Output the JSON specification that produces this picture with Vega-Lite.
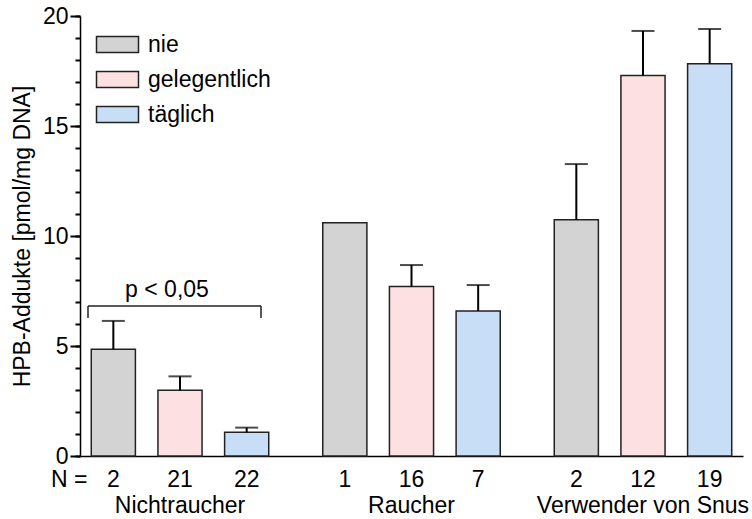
{
  "$schema": "https://vega.github.io/schema/vega-lite/v6.json",
  "autosize": {"type": "none"},
  "padding": {"left": 80, "top": 16, "right": 9, "bottom": 63},
  "width": 663,
  "height": 440,
  "config": {
    "font": "Liberation Sans",
    "view": {"stroke": null},
    "axis": {"labelColor": "#000", "titleColor": "#000", "domainColor": "#000", "domainWidth": 1.5, "grid": false, "labelFontSize": 23, "titleFontSize": 23, "titleFontWeight": "normal", "labelOverlap": false, "labelLimit": 0, "zindex": 2}
  },
  "resolve": {"axis": {"y": "independent"}},
  "data": {
    "values": [
      {"group": "Nichtraucher", "freq": "nie", "value": 4.85, "err": 6.14, "n": "2"},
      {"group": "Nichtraucher", "freq": "gelegentlich", "value": 2.99, "err": 3.62, "n": "21"},
      {"group": "Nichtraucher", "freq": "täglich", "value": 1.08, "err": 1.29, "n": "22"},
      {"group": "Raucher", "freq": "nie", "value": 10.6, "err": null, "n": "1"},
      {"group": "Raucher", "freq": "gelegentlich", "value": 7.7, "err": 8.68, "n": "16"},
      {"group": "Raucher", "freq": "täglich", "value": 6.59, "err": 7.77, "n": "7"},
      {"group": "Verwender von Snus", "freq": "nie", "value": 10.74, "err": 13.27, "n": "2"},
      {"group": "Verwender von Snus", "freq": "gelegentlich", "value": 17.3, "err": 19.32, "n": "12"},
      {"group": "Verwender von Snus", "freq": "täglich", "value": 17.83, "err": 19.41, "n": "19"}
    ]
  },
  "layer": [
    {
      "mark": {"type": "bar", "stroke": "#222", "strokeWidth": 1.5},
      "encoding": {
        "x": {
          "field": "group", "type": "nominal", "sort": null,
          "scale": {"domain": ["Nichtraucher", "Raucher", "Verwender von Snus"], "paddingInner": 0.136, "paddingOuter": 0},
          "axis": {"title": null, "ticks": false, "labelAngle": 0, "labelBaseline": "alphabetic", "labelPadding": 56}
        },
        "xOffset": {
          "field": "freq", "type": "nominal", "sort": null,
          "scale": {"domain": ["nie", "gelegentlich", "täglich"], "paddingInner": 0.338, "paddingOuter": 0.169}
        },
        "y": {
          "field": "value", "type": "quantitative",
          "scale": {"domain": [0, 20], "nice": false, "zero": true},
          "axis": {
            "orient": "left",
            "title": "HPB-Addukte [pmol/mg DNA]",
            "titlePadding": 8,
            "values": [0, 5, 10, 15, 20],
            "ticks": false,
            "tickSize": 0,
            "labelPadding": 12
          }
        },
        "color": {
          "field": "freq", "type": "nominal", "sort": null,
          "scale": {"domain": ["nie", "gelegentlich", "täglich"], "range": ["#d3d3d3", "#fde0e2", "#c8ddf6"]},
          "legend": {
            "title": null, "orient": "none", "legendX": 26, "legendY": 17, "padding": 0,
            "symbolType": "M-2.625,-1H2.625V1H-2.625Z", "symbolSize": 256,
            "symbolStrokeColor": "#222", "symbolStrokeWidth": 1.5, "symbolOpacity": 1,
            "labelFontSize": 23, "labelColor": "#000", "labelOffset": 19, "rowPadding": 11
          }
        }
      }
    },
    {
      "transform": [{"filter": "datum.err != null"}],
      "mark": {"type": "rule", "color": "#000", "strokeWidth": 2},
      "encoding": {
        "x": {"field": "group", "type": "nominal"},
        "xOffset": {"field": "freq", "type": "nominal"},
        "y": {
          "field": "value", "type": "quantitative",
          "axis": {
            "orient": "left", "title": null, "labels": false, "domain": false,
            "ticks": true, "tickColor": "#000", "tickWidth": 2, "tickOpacity": 1,
            "values": [0, 1, 2, 3, 4, 5, 6, 7, 8, 9, 10, 11, 12, 13, 14, 15, 16, 17, 18, 19, 20],
            "tickSize": 5
          }
        },
        "y2": {"field": "err"}
      }
    },
    {
      "transform": [{"filter": "datum.err != null"}],
      "mark": {"type": "tick", "color": "#000", "thickness": 2, "size": 23, "orient": "horizontal"},
      "encoding": {
        "x": {"field": "group", "type": "nominal"},
        "xOffset": {"field": "freq", "type": "nominal"},
        "y": {
          "field": "err", "type": "quantitative",
          "axis": {
            "orient": "left", "title": null, "labels": false, "domain": false,
            "ticks": true, "tickColor": "#000", "tickWidth": 2, "tickOpacity": 1,
            "values": [0, 5, 10, 15, 20],
            "tickSize": 10
          }
        }
      }
    },
    {
      "mark": {"type": "text", "fontSize": 23, "baseline": "alphabetic", "align": "center", "color": "#000"},
      "encoding": {
        "x": {"field": "group", "type": "nominal"},
        "xOffset": {"field": "freq", "type": "nominal"},
        "y": {"datum": -1.41, "axis": null},
        "text": {"field": "n"}
      }
    },
    {
      "data": {"values": [{"label": "N ="}]},
      "mark": {"type": "text", "fontSize": 23, "baseline": "alphabetic", "align": "right", "dx": -26, "color": "#000"},
      "encoding": {
        "x": {"datum": "Nichtraucher"},
        "xOffset": {"datum": "nie"},
        "y": {"datum": -1.41, "axis": null},
        "text": {"field": "label"}
      }
    },
    {
      "data": {"values": [{"group": "Nichtraucher", "top": 6.82, "foot": 6.27}]},
      "layer": [
        {
          "mark": {"type": "rule", "color": "#222", "strokeWidth": 1.5},
          "encoding": {
            "x": {"field": "group", "type": "nominal", "bandPosition": 0.04},
            "x2": {"field": "group", "bandPosition": 0.905},
            "y": {"field": "top", "type": "quantitative", "axis": null}
          }
        },
        {
          "mark": {"type": "rule", "color": "#222", "strokeWidth": 1.5},
          "encoding": {
            "x": {"field": "group", "type": "nominal", "bandPosition": 0.04},
            "y": {"field": "top", "type": "quantitative", "axis": null},
            "y2": {"field": "foot"}
          }
        },
        {
          "mark": {"type": "rule", "color": "#222", "strokeWidth": 1.5},
          "encoding": {
            "x": {"field": "group", "type": "nominal", "bandPosition": 0.905},
            "y": {"field": "top", "type": "quantitative", "axis": null},
            "y2": {"field": "foot"}
          }
        }
      ]
    },
    {
      "data": {"values": [{"group": "Nichtraucher", "label": "p < 0,05", "pos": 7.23}]},
      "mark": {"type": "text", "fontSize": 23, "baseline": "alphabetic", "align": "center", "color": "#000"},
      "encoding": {
        "x": {"field": "group", "type": "nominal", "bandPosition": 0.435},
        "y": {"field": "pos", "type": "quantitative", "axis": null},
        "text": {"field": "label"}
      }
    }
  ]
}
